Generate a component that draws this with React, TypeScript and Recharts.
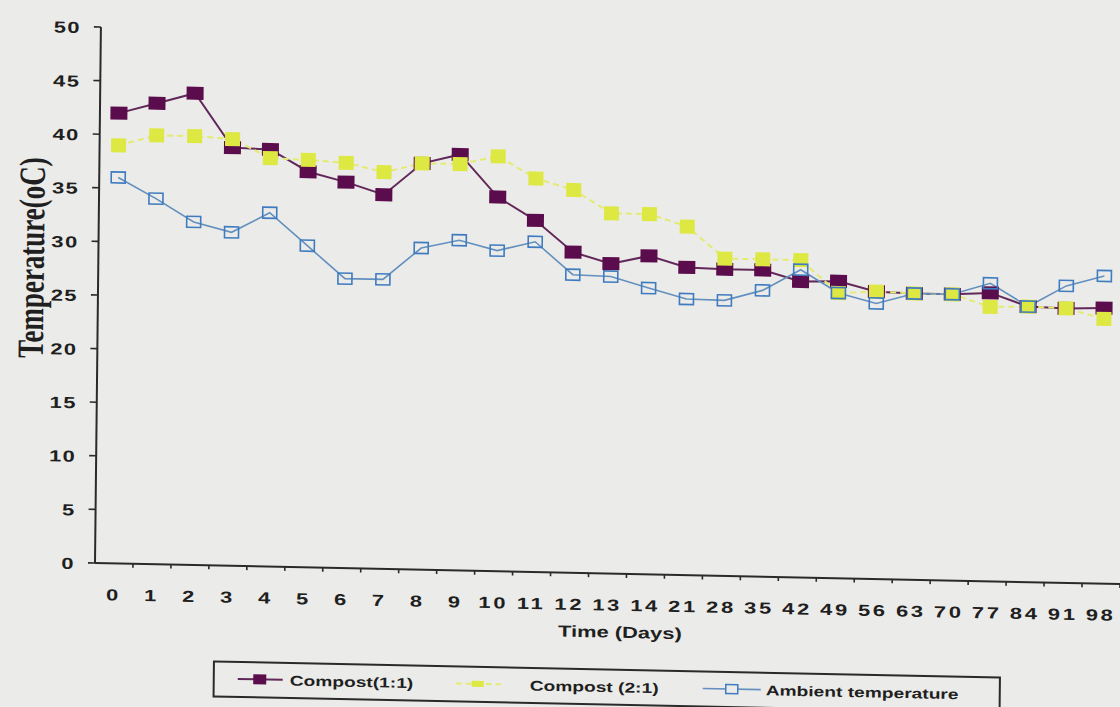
import React from 'react';
import { LineChart, Line, XAxis, YAxis, Legend, Label } from 'recharts';

// ---- data ----
const days = ['0', '1', '2', '3', '4', '5', '6', '7', '8', '9', '10', '11', '12', '13', '14', '21', '28', '35', '42', '49', '56', '63', '70', '77', '84', '91', '98'];
const compost11 = [42, 43, 44, 39, 38.9, 36.9, 36, 34.9, 37.9, 38.8, 34.9, 32.8, 29.9, 28.9, 29.7, 28.7, 28.6, 28.6, 27.6, 27.7, 26.8, 26.7, 26.7, 26.9, 25.7, 25.6, 25.7];
const compost21 = [39, 40, 40, 39.8, 38.1, 38, 37.8, 37, 37.9, 37.9, 38.7, 36.7, 35.7, 33.6, 33.6, 32.5, 29.6, 29.6, 29.6, 26.6, 26.8, 26.7, 26.7, 25.6, 25.7, 25.6, 24.7];
const ambient = [36, 34.1, 32, 31.1, 33, 30, 27, 27, 30, 30.8, 29.9, 30.8, 27.8, 27.7, 26.7, 25.75, 25.7, 26.7, 28.7, 26.6, 25.7, 26.7, 26.7, 27.8, 25.7, 27.7, 28.7];
const yTicks = [0, 5, 10, 15, 20, 25, 30, 35, 40, 45, 50];
const seriesNames = ['Compost(1:1)', 'Compost (2:1)', 'Ambient temperature'];

const data = days.map((d, i) => ({
  day: d,
  c11: compost11[i],
  c21: compost21[i],
  amb: ambient[i],
}));

// ---- layout / style ----
const W = 1120;
const H = 707;
const Y_AXIS_W = 95;
const BAND = (W - Y_AXIS_W) / days.length;
const SX = 1.37; // horizontal stretch of the scanned text
const FONT = '"Liberation Sans", Arial, sans-serif';
const INK = '#1f1f1f';
const AXIS = '#2a2a2a';

const PURPLE_LINE = '#62285a';
const PURPLE_FILL = '#5a0c4c';
const YELLOW_LINE = '#e3eb70';
const YELLOW_FILL = '#dde843';
const BLUE_LINE = '#6390bf';
const BLUE_MARK = '#3f7bbf';

const XTick = (props: any) => {
  const { x, y, payload } = props;
  return (
    <g>
      <line x1={x + BAND / 2} x2={x + BAND / 2} y1={y} y2={y + 4} stroke={AXIS} strokeWidth={1.6} />
      <text
        transform={`translate(${x},${y + 37}) scale(${SX},1)`}
        textAnchor="middle"
        fontFamily={FONT}
        fontWeight="bold"
        fontSize={16}
        letterSpacing={2}
        fill={INK}
      >
        {payload.value}
      </text>
    </g>
  );
};

const YTick = (props: any) => {
  const { x, y, payload } = props;
  return (
    <g>
      <line x1={x - 7} x2={x} y1={y} y2={y} stroke={AXIS} strokeWidth={1.6} />
      <text
        transform={`translate(${x - 20},${y + 6.5}) scale(${SX},1)`}
        textAnchor="end"
        fontFamily={FONT}
        fontWeight="bold"
        fontSize={16}
        letterSpacing={1}
        fill={INK}
      >
        {payload.value}
      </text>
    </g>
  );
};

const purpleDot = (p: any) => (
  <rect key={`p-${p.index}`} x={p.cx - 8.5} y={p.cy - 6.5} width={17} height={13} fill={PURPLE_FILL} />
);
const yellowDot = (p: any) => (
  <rect key={`y-${p.index}`} x={p.cx - 7.5} y={p.cy - 7} width={15} height={14} fill={YELLOW_FILL} />
);
const blueDot = (p: any) => (
  <rect
    key={`b-${p.index}`}
    x={p.cx - 7}
    y={p.cy - 5.5}
    width={14}
    height={11}
    fill="none"
    stroke={BLUE_MARK}
    strokeWidth={1.6}
  />
);

const XTitle = (props: any) => {
  const vb = props.viewBox || { x: Y_AXIS_W, y: 563, width: W - Y_AXIS_W };
  const cx = vb.x + vb.width / 2 + 13;
  return (
    <text
      transform={`translate(${cx},${vb.y + 64}) scale(${SX},1)`}
      textAnchor="middle"
      fontFamily={FONT}
      fontWeight="bold"
      fontSize={16}
      fill={INK}
    >
      Time (Days)
    </text>
  );
};

const YTitle = (props: any) => {
  const vb = props.viewBox || { x: 0, y: 27, height: 536 };
  const cy = vb.y + vb.height / 2 - 36;
  return (
    <text
      transform={`translate(28,${cy}) scale(${SX},1) rotate(-90)`}
      textAnchor="middle"
      dominantBaseline="central"
      fontFamily='"Liberation Serif", "Times New Roman", serif'
      fontWeight="bold"
      fontSize={27}
      fill={INK}
    >
      Temperature(oC)
    </text>
  );
};

const LegendBox = () => {
  const ty = 23.5;
  const textProps = {
    fontFamily: FONT,
    fontWeight: 'bold' as const,
    fontSize: 14,
    fill: INK,
  };
  return (
    <svg width={788} height={37} style={{ display: 'block', overflow: 'visible' }}>
      <rect x={1} y={1} width={786} height={35} fill="none" stroke={AXIS} strokeWidth={2} />
      {/* Compost(1:1) */}
      <line x1={25} x2={70} y1={18} y2={18} stroke={PURPLE_LINE} strokeWidth={2} />
      <rect x={47 - 6.5} y={18 - 5} width={13} height={10} fill={PURPLE_FILL} />
      <text transform={`translate(77,${ty}) scale(${SX},1)`} {...textProps}>{seriesNames[0]}</text>
      {/* Compost (2:1) */}
      <line x1={243} x2={288} y1={18} y2={18} stroke={YELLOW_LINE} strokeWidth={2} strokeDasharray="6 4" />
      <rect x={265 - 6} y={18 - 3} width={12} height={6} fill={YELLOW_FILL} />
      <text transform={`translate(317,${ty}) scale(${SX},1)`} {...textProps}>{seriesNames[1]}</text>
      {/* Ambient */}
      <line x1={490} x2={548} y1={18} y2={18} stroke={BLUE_LINE} strokeWidth={1.6} />
      <rect x={519 - 6} y={18 - 4.5} width={12} height={9} fill="#ebebe9" stroke={BLUE_MARK} strokeWidth={1.5} />
      <text transform={`translate(553,${ty}) scale(${SX},1)`} {...textProps}>{seriesNames[2]}</text>
    </svg>
  );
};

export default function App() {
  return (
    <div
      style={{
        position: 'absolute',
        left: 0,
        top: 0,
        width: W,
        height: H,
        background: '#ebebe9',
        overflow: 'hidden',
      }}
    >
      <div
        style={{
          position: 'absolute',
          left: 0,
          top: 0,
          width: W,
          height: H,
          transform: 'matrix(1, 0.0205, -0.011, 1, 0, 0)',
          transformOrigin: '95px 563px',
        }}
      >
        <LineChart width={W} height={H} data={data} margin={{ top: 27, right: 0, left: 0, bottom: 0 }}>
          <XAxis
            dataKey="day"
            height={144}
            interval={0}
            padding={{ left: BAND / 2, right: BAND / 2 }}
            tickSize={0}
            tickMargin={0}
            tickLine={false}
            axisLine={{ stroke: AXIS, strokeWidth: 2 }}
            tick={<XTick />}
          >
            <Label content={<XTitle />} />
          </XAxis>
          <YAxis
            width={Y_AXIS_W}
            domain={[0, 50]}
            ticks={yTicks}
            interval={0}
            tickSize={0}
            tickMargin={0}
            tickLine={false}
            axisLine={{ stroke: AXIS, strokeWidth: 2 }}
            tick={<YTick />}
          >
            <Label content={<YTitle />} />
          </YAxis>
          <Legend
            layout="horizontal"
            verticalAlign="middle"
            align="center"
            content={<LegendBox />}
            wrapperStyle={{ top: 657.5, left: 214, width: 788, height: 37 }}
          />
          <Line
            name={seriesNames[0]}
            dataKey="c11"
            stroke={PURPLE_LINE}
            strokeWidth={2}
            dot={purpleDot}
            activeDot={false}
            isAnimationActive={false}
          />
          <Line
            name={seriesNames[1]}
            dataKey="c21"
            stroke={YELLOW_LINE}
            strokeWidth={2}
            strokeDasharray="6 4"
            dot={yellowDot}
            activeDot={false}
            isAnimationActive={false}
          />
          <Line
            name={seriesNames[2]}
            dataKey="amb"
            stroke={BLUE_LINE}
            strokeWidth={1.6}
            dot={blueDot}
            activeDot={false}
            isAnimationActive={false}
          />
        </LineChart>
      </div>
    </div>
  );
}
